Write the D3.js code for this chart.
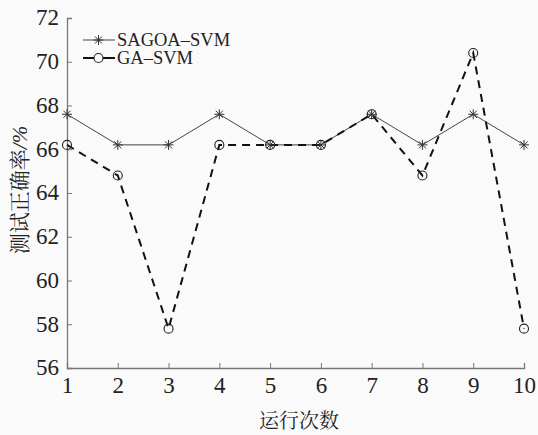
<!DOCTYPE html>
<html>
<head>
<meta charset="utf-8">
<script src="https://cdn.jsdelivr.net/npm/d3@7"></script>
<style>
  body { margin: 0; background: #fafafa; }
  text { fill: #222; }
</style>
</head>
<body>
<div id="chart"></div>
<script>
// run number
const runs = [1, 2, 3, 4, 5, 6, 7, 8, 9, 10];
// accuracy (%)
const sagoaSvm = [67.6, 66.2, 66.2, 67.6, 66.2, 66.2, 67.6, 66.2, 67.6, 66.2];
const gaSvm = [66.2, 64.8, 57.8, 66.2, 66.2, 66.2, 67.6, 64.8, 70.4, 57.8];
const yTicks = [56, 58, 60, 62, 64, 66, 68, 70, 72];
const seriesNames = ["SAGOA\u2013SVM", "GA\u2013SVM"];

const serif = "'Liberation Serif', serif";
const cjk = "'Noto Serif CJK SC', 'Noto Sans CJK SC', serif";

const width = 538, height = 435;
const margin = {left: 67, right: 14, top: 18, bottom: 67};

const svg = d3.select("#chart").append("svg")
    .attr("width", width)
    .attr("height", height);

const x = d3.scaleLinear().domain([1, 10]).range([margin.left, width - margin.right]);
const y = d3.scaleLinear().domain([56, 72]).range([height - margin.bottom, margin.top]);

// axes, ticks pointing inward
const xAxis = svg.append("g")
    .attr("transform", "translate(0," + (height - margin.bottom) + ")")
    .call(d3.axisBottom(x).tickValues(runs).tickSize(-5).tickPadding(9).tickFormat(d3.format("d")));
const yAxis = svg.append("g")
    .attr("transform", "translate(" + margin.left + ",0)")
    .call(d3.axisLeft(y).tickValues(yTicks).tickSize(-5).tickPadding(8));

[xAxis, yAxis].forEach(function (g) {
    g.attr("font-family", serif).attr("font-size", 23);
    g.select(".domain").attr("stroke", "#777").attr("stroke-width", 1.3);
    g.selectAll(".tick line").attr("stroke", "#777");
    g.selectAll(".tick text").attr("fill", "#222");
});
yAxis.selectAll(".tick text").attr("dy", "0.3em");

const line = d3.line()
    .x(function (d, i) { return x(runs[i]); })
    .y(function (d) { return y(d); });

// SAGOA-SVM: thin solid line with asterisks
svg.append("path")
    .datum(sagoaSvm)
    .attr("d", line)
    .attr("fill", "none")
    .attr("stroke", "#444")
    .attr("stroke-width", 1);

function star(g, cx, cy, r) {
    for (let k = 0; k < 4; k++) {
        const a = k * Math.PI / 4;
        g.append("line")
            .attr("x1", cx - r * Math.cos(a)).attr("y1", cy - r * Math.sin(a))
            .attr("x2", cx + r * Math.cos(a)).attr("y2", cy + r * Math.sin(a))
            .attr("stroke", "#333").attr("stroke-width", 1);
    }
}

// GA-SVM: dashed line with open circles
svg.append("path")
    .datum(gaSvm)
    .attr("d", line)
    .attr("fill", "none")
    .attr("stroke", "#111")
    .attr("stroke-width", 2)
    .attr("stroke-dasharray", "8,6");

const marks = svg.append("g");
sagoaSvm.forEach(function (d, i) { star(marks, x(runs[i]), y(d), 5); });
svg.append("g").selectAll("circle")
    .data(gaSvm)
    .enter()
    .append("circle")
    .attr("cx", function (d, i) { return x(runs[i]); })
    .attr("cy", function (d) { return y(d); })
    .attr("r", 4.5)
    .attr("fill", "none")
    .attr("stroke", "#222")
    .attr("stroke-width", 1.1);

// legend
const legend = svg.append("g");
[0, 1].forEach(function (i) {
    const ly = 40 + i * 18;
    legend.append("line")
        .attr("x1", 83).attr("x2", 115).attr("y1", ly).attr("y2", ly)
        .attr("stroke", i === 0 ? "#444" : "#111")
        .attr("stroke-width", i === 0 ? 1 : 2);
    if (i === 0) star(legend, 98.5, ly, 5);
    else legend.append("circle").attr("cx", 98.5).attr("cy", ly).attr("r", 4.5)
        .attr("fill", "#fafafa").attr("stroke", "#222").attr("stroke-width", 1.1);
    legend.append("text")
        .attr("x", 117).attr("y", ly + 5.5)
        .attr("font-family", serif)
        .attr("font-size", 18.5)
        .text(seriesNames[i]);
});

// axis titles
svg.append("text")
    .attr("x", 299)
    .attr("y", 428)
    .attr("text-anchor", "middle")
    .attr("font-family", cjk)
    .attr("font-size", 20)
    .text("运行次数");

const yTitle = svg.append("text")
    .attr("transform", "translate(27,190) rotate(-90)")
    .attr("text-anchor", "middle")
    .attr("font-family", cjk)
    .attr("font-size", 21);
yTitle.append("tspan").text("测试正确率");
yTitle.append("tspan")
    .attr("font-family", serif)
    .attr("font-style", "italic")
    .text("/%");
</script>
</body>
</html>
